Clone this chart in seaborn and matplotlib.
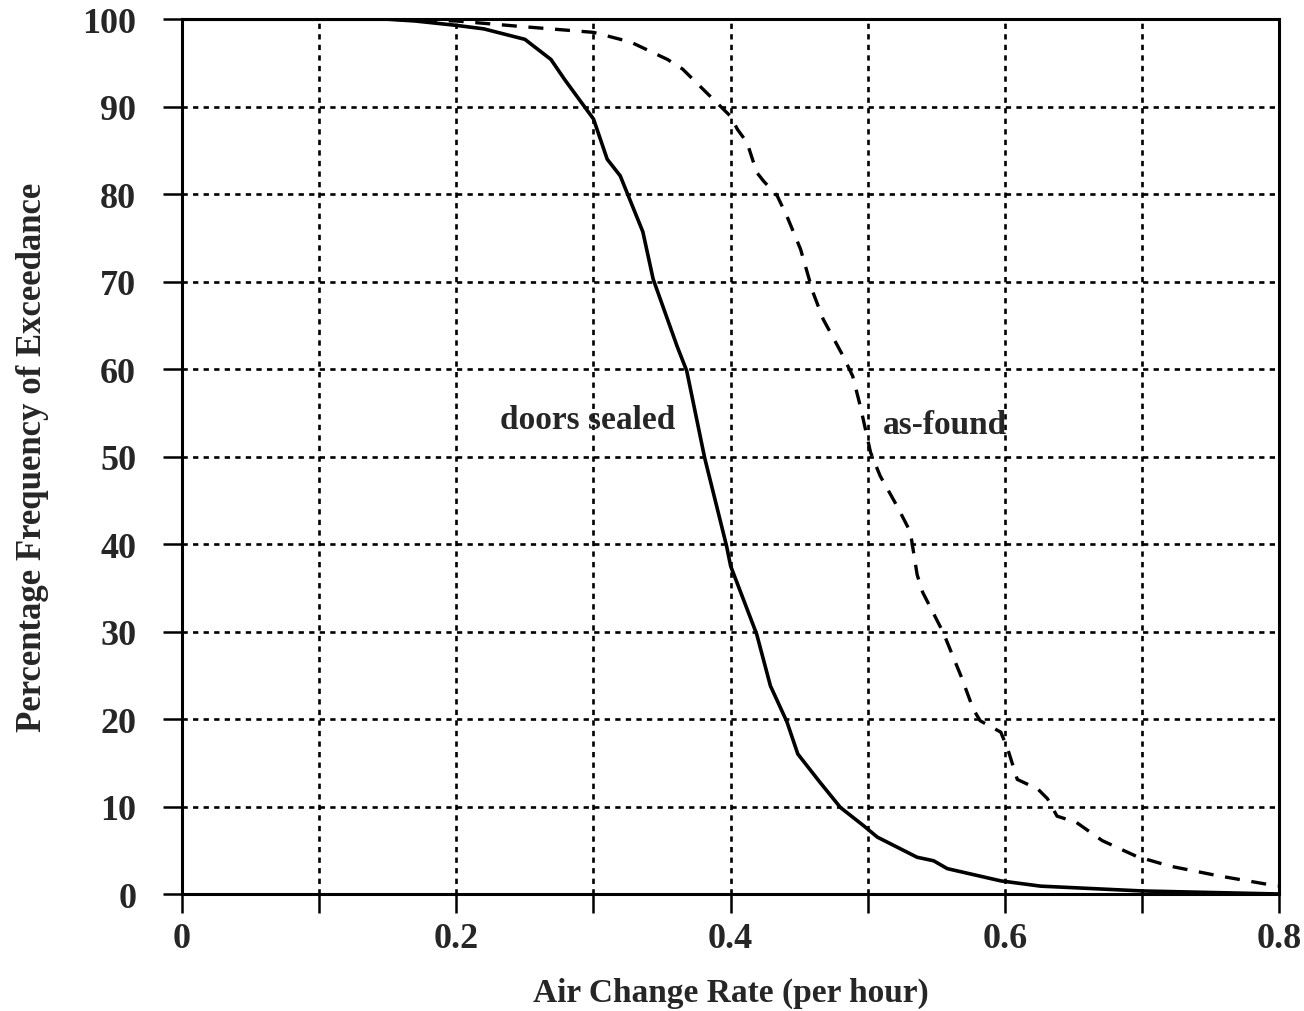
import numpy as np
import pandas as pd
import matplotlib
matplotlib.use("Agg")
import matplotlib.pyplot as plt
import seaborn as sb

# doors sealed (solid)
sealed_x = [0.0, 0.15, 0.17, 0.2, 0.22, 0.25, 0.269, 0.279, 0.3, 0.31, 0.3195, 0.336, 0.3435,
            0.361, 0.368, 0.381, 0.397, 0.4, 0.419, 0.429, 0.441, 0.449, 0.465, 0.48, 0.497,
            0.507, 0.536, 0.548, 0.558, 0.597, 0.626, 0.7, 0.8]
sealed_y = [100, 100, 99.8, 99.3, 98.9, 97.7, 95.4, 93.1, 88.6, 84.0, 82.1, 75.7, 70.3,
            62.6, 59.8, 49.9, 39.8, 37.5, 29.7, 23.8, 19.7, 16.0, 12.8, 9.9, 7.8,
            6.5, 4.2, 3.8, 2.9, 1.5, 0.9, 0.35, 0.0]

# as-found (dashed)
found_x = [0.0, 0.15, 0.2, 0.245, 0.3, 0.327, 0.354, 0.365, 0.387, 0.4, 0.405, 0.412, 0.419,
           0.424, 0.434, 0.441, 0.451, 0.46, 0.4675, 0.482, 0.489, 0.4945, 0.502, 0.509,
           0.5215, 0.531, 0.536, 0.54, 0.555, 0.568, 0.577, 0.582, 0.597, 0.602, 0.609,
           0.624, 0.631, 0.638, 0.652, 0.671, 0.696, 0.72, 0.755, 0.799]
found_y = [100, 100, 99.8, 99.2, 98.5, 97.4, 95.4, 94.3, 90.9, 88.9, 87.4, 85.9, 82.5,
           81.5, 79.8, 77.5, 73.7, 68.8, 65.7, 61.5, 59.2, 55.8, 50.5, 47.8,
           44.3, 41.4, 36.5, 34.5, 29.9, 24.9, 21.1, 19.8, 18.5, 16.6, 13.1,
           12.0, 10.9, 8.9, 8.2, 6.1, 4.3, 3.2, 2.1, 0.9]

x_ticks = [0, 0.1, 0.2, 0.3, 0.4, 0.5, 0.6, 0.7, 0.8]
x_labels = ["0", "", "0.2", "", "0.4", "", "0.6", "", "0.8"]
y_ticks = [0, 10, 20, 30, 40, 50, 60, 70, 80, 90, 100]

sb.set_style("ticks")
plt.rcParams['font.family'] = ['Liberation Serif', 'DejaVu Serif']
plt.rcParams['font.weight'] = 'bold'

fig = plt.figure(figsize=(13.04, 10.12), dpi=100)
ax = fig.add_axes([0.1396, 0.1156, 0.8414, 0.8644])

sealed = pd.DataFrame({'x': sealed_x, 'y': sealed_y})
found = pd.DataFrame({'x': found_x, 'y': found_y})
sb.lineplot(data=sealed, x='x', y='y', ax=ax, color='black', linewidth=2.6, sort=False)
sb.lineplot(data=found, x='x', y='y', ax=ax, color='black', linewidth=2.4, sort=False,
            linestyle=(0, (4.5, 3.5)))

ax.set_xlim(0, 0.8)
ax.set_ylim(0, 100)
ax.set_xticks(x_ticks)
ax.set_xticklabels(x_labels)
ax.set_yticks(y_ticks)
ax.grid(True, color='black', linestyle=(0, (2, 2)), linewidth=1.9)
for s in ax.spines.values():
    s.set_visible(True)
    s.set_color('black')
    s.set_linewidth(2.2)
ax.tick_params(axis='both', direction='out', length=14, width=1.8, color='black',
               labelsize=26)
ax.tick_params(axis='y', pad=19)
ax.tick_params(axis='x', pad=6)
for lab in ax.get_xticklabels() + ax.get_yticklabels():
    lab.set_fontweight('bold')

ax.set_xlabel("Air Change Rate (per hour)", fontsize=24, fontweight='bold', labelpad=16)
ax.set_ylabel("Percentage Frequency of Exceedance", fontsize=25, fontweight='bold', labelpad=24)

ax.text(0.296, 54.3, "doors sealed", fontsize=24, fontweight='bold', ha='center', va='center')
ax.text(0.556, 53.7, "as-found", fontsize=24, fontweight='bold', ha='center', va='center')

fig.savefig("out.png", dpi=100)
